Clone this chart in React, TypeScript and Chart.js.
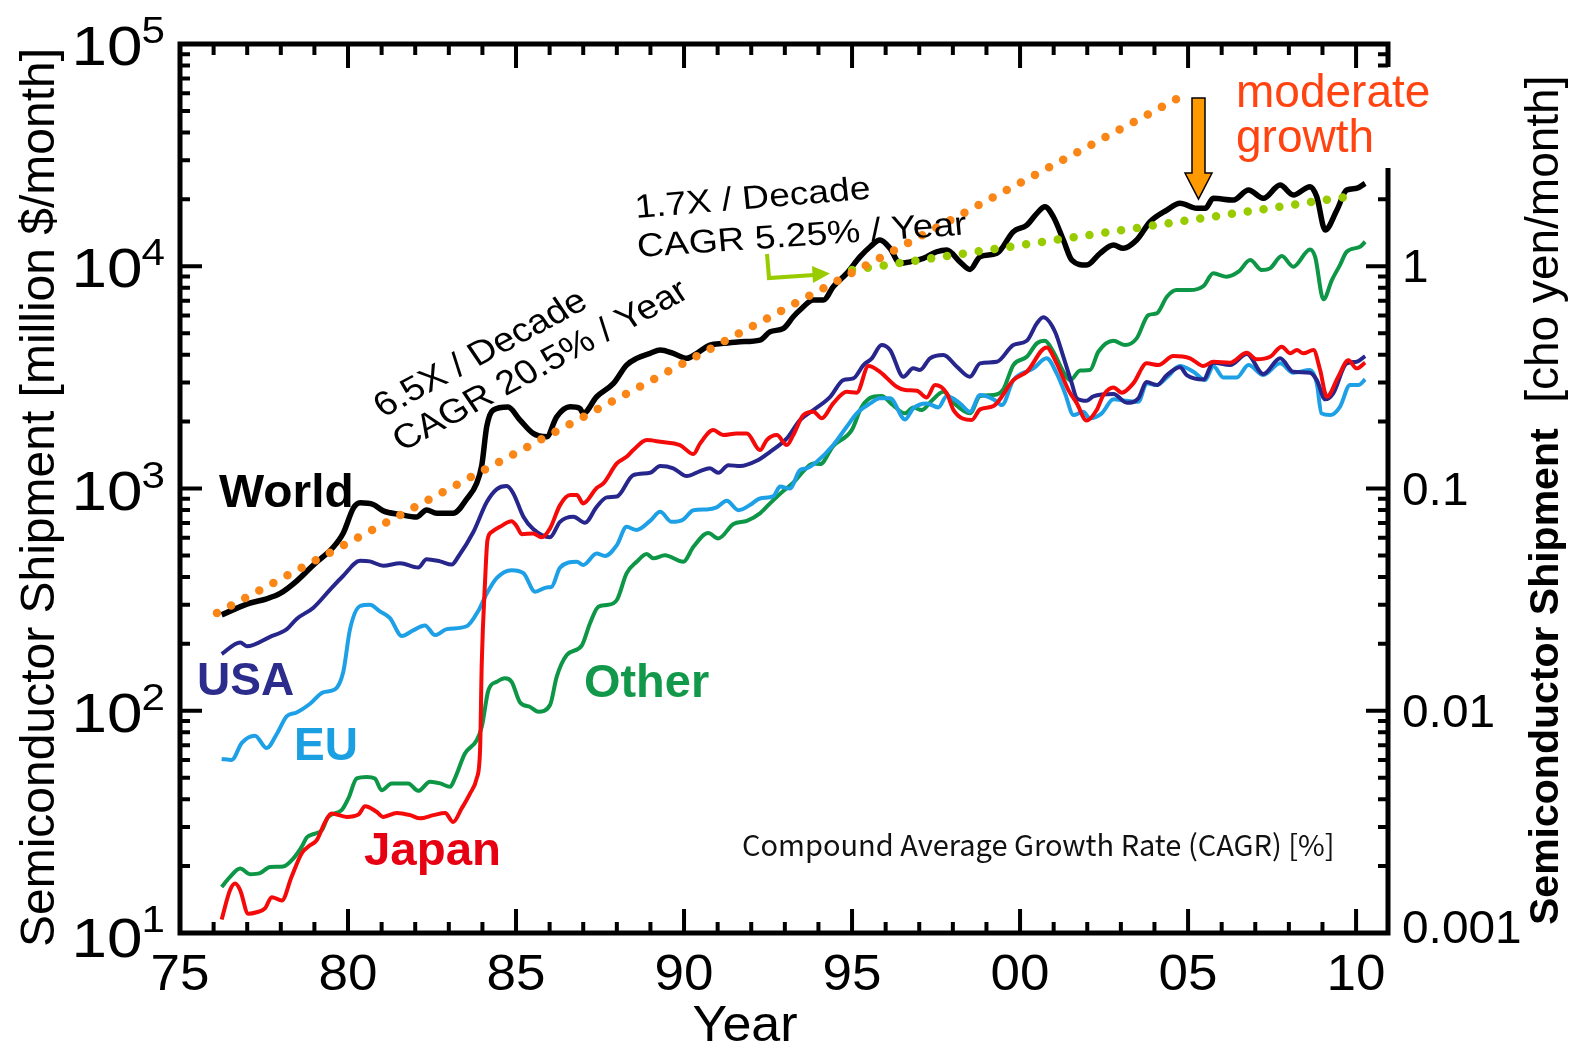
import React, { useEffect, useRef } from 'react';
import { Chart, registerables } from 'chart.js';

Chart.register(...registerables);

// ---------- data: [year, million $ / month] ----------
const WORLD: [number, number][] = [
  [1976.24, 270], [1976.99, 302], [1977.58, 319], [1977.98, 337], [1978.47, 383], [1978.97, 453],
  [1979.56, 544], [1979.86, 631], [1980.16, 816], [1980.36, 862], [1980.75, 847], [1981.05, 793],
  [1981.55, 764], [1982.04, 744], [1982.34, 801], [1982.64, 773], [1983.13, 773], [1983.53, 895],
  [1983.83, 1056], [1983.98, 1270], [1984.13, 1905], [1984.32, 2254], [1984.76, 2324], [1985.12, 2031],
  [1985.51, 1770], [1985.91, 1709], [1986.21, 2102], [1986.61, 2332], [1986.9, 2293], [1987.0, 2178],
  [1987.4, 2586], [1987.9, 2972], [1988.29, 3593], [1988.59, 3851], [1988.99, 4055], [1989.29, 4197],
  [1989.68, 4055], [1990.08, 3851], [1990.38, 4055], [1990.77, 4420], [1991.17, 4498], [1991.67, 4574],
  [1992.26, 4654], [1992.56, 5074], [1992.96, 5254], [1993.25, 5927], [1993.45, 6353], [1993.85, 7046],
  [1994.15, 7046], [1994.44, 8086], [1994.84, 9290], [1995.24, 11040], [1995.54, 12240], [1995.83, 13120],
  [1996.13, 12040], [1996.43, 10300], [1996.73, 10470], [1997.12, 10850], [1997.52, 11620], [1997.82, 11830],
  [1998.21, 10470], [1998.51, 9680], [1998.81, 11040], [1999.31, 11430], [1999.8, 14300], [2000.2, 15320],
  [2000.5, 17300], [2000.74, 18530], [2000.99, 16700], [2001.29, 13120], [2001.54, 10660], [2001.98, 10120],
  [2002.38, 11430], [2002.78, 12460], [2003.07, 12040], [2003.47, 13120], [2003.87, 15860], [2004.37, 17900],
  [2004.76, 19200], [2005.26, 18220], [2005.51, 18220], [2005.75, 20210], [2006.35, 19860], [2006.8, 22030],
  [2007.24, 20210], [2007.74, 23200], [2008.13, 20910], [2008.63, 22800], [2008.83, 20550], [2009.08, 14560],
  [2009.43, 17900], [2009.72, 22030], [2010.02, 22420], [2010.27, 23610],
];

const USA: [number, number][] = [
  [1976.24, 180], [1976.79, 203], [1976.99, 195], [1977.68, 215], [1978.18, 233], [1978.47, 259],
  [1978.97, 291], [1979.46, 350], [1979.86, 405], [1980.36, 473], [1980.65, 470], [1981.05, 449],
  [1981.55, 461], [1982.09, 441], [1982.34, 481], [1982.74, 470], [1983.09, 455], [1983.28, 493],
  [1983.73, 637], [1984.13, 869], [1984.43, 994], [1984.72, 1025], [1984.92, 950], [1985.22, 746],
  [1985.51, 657], [1986.01, 603], [1986.31, 708], [1986.71, 746], [1987.05, 701], [1987.4, 827],
  [1987.7, 912], [1988.0, 920], [1988.49, 1149], [1988.99, 1177], [1989.29, 1261], [1989.68, 1232],
  [1990.08, 1137], [1990.48, 1198], [1990.77, 1232], [1991.02, 1177], [1991.32, 1274], [1991.67, 1261],
  [1992.16, 1332], [1992.56, 1463], [1993.06, 1681], [1993.45, 2031], [1993.85, 2254], [1994.35, 2586],
  [1994.74, 3075], [1995.04, 3130], [1995.34, 3593], [1995.59, 3851], [1995.88, 4420], [1996.13, 4197],
  [1996.53, 3183], [1996.82, 3472], [1997.02, 3412], [1997.32, 3851], [1997.72, 3984], [1998.12, 3530],
  [1998.51, 3183], [1998.81, 3656], [1999.31, 3716], [1999.8, 4420], [2000.2, 4620], [2000.5, 5534],
  [2000.69, 5890], [2001.04, 5074], [2001.29, 3914], [2001.54, 2972], [2001.69, 2544], [2001.98, 2481],
  [2002.18, 2597], [2002.78, 2660], [2003.18, 2431], [2003.52, 2544], [2003.77, 3018], [2004.07, 2920],
  [2004.37, 3239], [2004.76, 3508], [2004.96, 3239], [2005.46, 3097], [2005.75, 3682], [2006.25, 3593],
  [2006.75, 4026], [2007.24, 3273], [2007.74, 3851], [2008.13, 3351], [2008.63, 3318], [2008.83, 3075],
  [2009.08, 2518], [2009.32, 2679], [2009.72, 3656], [2010.02, 3716], [2010.27, 3944],
];

const EU: [number, number][] = [
  [1976.24, 60.7], [1976.54, 60.1], [1976.84, 71.7], [1977.23, 77.2], [1977.58, 67.9], [1977.88, 78.6],
  [1978.18, 94.6], [1978.47, 98.2], [1978.87, 107.5], [1979.26, 121], [1979.61, 124.7], [1979.86, 149.8],
  [1980.06, 233], [1980.36, 296], [1980.65, 300], [1980.95, 280], [1981.25, 261], [1981.6, 217],
  [1981.94, 230], [1982.29, 242], [1982.59, 219], [1982.94, 233], [1983.53, 240], [1983.88, 282],
  [1984.13, 337], [1984.43, 396], [1984.87, 429], [1985.22, 416], [1985.57, 343], [1985.91, 359],
  [1986.06, 361], [1986.31, 441], [1986.81, 468], [1987.0, 453], [1987.4, 510], [1987.65, 497],
  [1988.0, 556], [1988.29, 672], [1988.59, 650], [1988.99, 715], [1989.29, 785], [1989.63, 708],
  [1989.98, 726], [1990.28, 799], [1990.68, 805], [1990.97, 822], [1991.27, 880], [1991.62, 799],
  [1991.96, 842], [1992.26, 902], [1992.66, 924], [1992.86, 1020], [1993.15, 1000], [1993.45, 1210],
  [1993.65, 1232], [1993.95, 1319], [1994.44, 1568], [1994.84, 1895], [1995.14, 2178], [1995.54, 2415],
  [1995.83, 2544], [1996.13, 2544], [1996.58, 2046], [1996.82, 2293], [1997.22, 2415], [1997.57, 2317],
  [1997.82, 2606], [1998.21, 2415], [1998.51, 2214], [1998.81, 2633], [1999.21, 2518], [1999.46, 2373],
  [1999.8, 3075], [2000.4, 3472], [2000.79, 3851], [2001.09, 3296], [2001.34, 2679], [2001.59, 2140],
  [2001.88, 2214], [2002.08, 2068], [2002.43, 2178], [2002.78, 2518], [2003.18, 2481], [2003.52, 2456],
  [2003.77, 2972], [2004.07, 2920], [2004.37, 3162], [2004.76, 3555], [2005.16, 3351], [2005.51, 3075],
  [2005.75, 3555], [2006.05, 3162], [2006.45, 3162], [2006.8, 3593], [2007.24, 3239], [2007.74, 3656],
  [2008.13, 3318], [2008.63, 3412], [2008.83, 2972], [2008.97, 2178], [2009.23, 2140], [2009.52, 2332],
  [2009.82, 2920], [2010.07, 2920], [2010.27, 3097],
];

const JAPAN: [number, number][] = [
  [1976.24, 11.5], [1976.49, 15.6], [1976.64, 16.7], [1976.79, 15.6], [1977.03, 12.2], [1977.28, 12.4],
  [1977.53, 12.9], [1977.73, 14.5], [1978.03, 14.0], [1978.32, 17.9], [1978.62, 22.8], [1978.87, 24.8],
  [1979.07, 26.2], [1979.32, 31.6], [1979.51, 34.5], [1979.96, 33.3], [1980.31, 34.1], [1980.51, 37.2],
  [1980.85, 35.1], [1981.05, 33.3], [1981.45, 34.7], [1981.85, 33.9], [1982.14, 32.8], [1982.54, 33.9],
  [1982.89, 34.7], [1983.13, 31.6], [1983.38, 36.3], [1983.63, 42.4], [1983.83, 49.6], [1983.93, 66.5],
  [1983.98, 163], [1984.08, 387], [1984.15, 586], [1984.28, 638], [1984.52, 672], [1984.87, 712],
  [1985.02, 677], [1985.17, 623], [1985.51, 627], [1985.76, 603], [1986.01, 661], [1986.31, 842],
  [1986.61, 934], [1986.81, 934], [1987.0, 857], [1987.4, 1006], [1987.6, 1054], [1988.0, 1297],
  [1988.29, 1389], [1988.49, 1489], [1988.89, 1652], [1989.29, 1623], [1989.88, 1568], [1990.28, 1428],
  [1990.48, 1596], [1990.87, 1831], [1991.17, 1739], [1991.57, 1770], [1991.87, 1770], [1992.26, 1489],
  [1992.46, 1652], [1992.76, 1739], [1993.06, 1568], [1993.25, 1739], [1993.55, 2140], [1993.85, 2214],
  [1994.1, 2068], [1994.44, 2415], [1994.84, 2725], [1995.14, 2699], [1995.49, 3555], [1995.83, 3351],
  [1996.33, 2869], [1996.58, 2772], [1996.93, 2752], [1997.22, 2570], [1997.47, 2920], [1997.82, 2679],
  [1998.02, 2254], [1998.56, 2031], [1998.81, 2270], [1999.21, 2349], [1999.8, 3075], [2000.2, 3351],
  [2000.79, 4311], [2001.09, 3656], [2001.44, 2772], [2001.69, 2415], [2001.98, 2021], [2002.28, 2254],
  [2002.48, 2633], [2002.78, 2851], [2003.03, 2699], [2003.37, 2972], [2003.77, 3656], [2004.12, 3593],
  [2004.56, 3944], [2005.06, 3851], [2005.46, 3555], [2005.75, 3716], [2006.25, 3682], [2006.75, 4080],
  [2007.04, 3812], [2007.44, 3914], [2007.79, 4344], [2008.04, 4055], [2008.24, 4197], [2008.43, 4055],
  [2008.73, 4197], [2008.93, 3412], [2009.13, 2586], [2009.47, 3183], [2009.77, 3780], [2010.02, 3472],
  [2010.27, 3682],
];

const OTHER: [number, number][] = [
  [1976.24, 16.1], [1976.49, 17.9], [1976.79, 19.5], [1977.08, 18.4], [1977.38, 18.6], [1977.68, 19.8],
  [1978.07, 19.9], [1978.37, 21.6], [1978.62, 24.4], [1978.77, 26.9], [1979.02, 28.0], [1979.22, 29.0],
  [1979.41, 33.3], [1979.81, 35.7], [1980.01, 40.3], [1980.26, 49.6], [1980.56, 50.4], [1980.8, 49.6],
  [1981.0, 43.9], [1981.3, 47.1], [1981.79, 47.1], [1982.09, 43.6], [1982.44, 47.9], [1982.74, 47.1],
  [1983.04, 45.5], [1983.18, 49.6], [1983.48, 64.2], [1983.83, 73.7], [1983.98, 84.6], [1984.18, 124],
  [1984.43, 135], [1984.67, 140], [1984.87, 135], [1985.12, 109], [1985.42, 104], [1985.66, 99],
  [1986.01, 106], [1986.21, 142], [1986.51, 178], [1986.96, 197], [1987.2, 247], [1987.45, 294],
  [1987.7, 299], [1988.0, 315], [1988.29, 415], [1988.59, 468], [1988.89, 507], [1989.09, 485],
  [1989.43, 501], [1989.98, 468], [1990.28, 547], [1990.72, 631], [1991.02, 596], [1991.47, 692],
  [1991.87, 715], [1992.26, 773], [1992.56, 857], [1992.96, 976], [1993.25, 1061], [1993.45, 1149],
  [1993.85, 1297], [1994.05, 1288], [1994.44, 1552], [1994.99, 1831], [1995.29, 2332], [1995.63, 2586],
  [1995.88, 2606], [1996.18, 2398], [1996.58, 2178], [1996.82, 2317], [1997.07, 2254], [1997.37, 2481],
  [1997.72, 2725], [1998.02, 2431], [1998.51, 2178], [1998.81, 2606], [1999.21, 2633], [1999.5, 2793],
  [1999.8, 3593], [2000.2, 3914], [2000.5, 4498], [2000.74, 4620], [2000.99, 4124], [2001.29, 3351],
  [2001.49, 3075], [2001.79, 3396], [2002.08, 3412], [2002.33, 4124], [2002.78, 4620], [2003.13, 4420],
  [2003.47, 4737], [2003.82, 6030], [2004.07, 6138], [2004.37, 7290], [2004.66, 7813], [2005.06, 7813],
  [2005.46, 8147], [2005.75, 9290], [2006.15, 8969], [2006.5, 9447], [2006.85, 10660], [2007.19, 9610],
  [2007.44, 9780], [2007.79, 11110], [2008.13, 9950], [2008.63, 11910], [2008.78, 11040], [2009.03, 7100],
  [2009.28, 8670], [2009.52, 10120], [2009.72, 11620], [2010.12, 12240], [2010.27, 12890],
];

// CAGR guide lines (end points)
const TREND_FAST: [number, number][] = [[1976.1, 275], [2004.7, 57000]]; // 6.5X / decade
const TREND_SLOW: [number, number][] = [[1995.0, 9610], [2010.07, 20900]]; // 1.7X / decade

// ---------- axes ----------
const X_MIN = 1975;
const X_MAX = 2010.95;
const X_MAJOR = [1975, 1980, 1985, 1990, 1995, 2000, 2005, 2010];
const X_LABELS = ['75', '80', '85', '90', '95', '00', '05', '10'];
const Y_EXPONENTS = [1, 2, 3, 4, 5];
const Y_RIGHT_LABELS = ['0.001', '0.01', '0.1', '1'];
const Y_RIGHT_VALUES = [10, 100, 1000, 10000];

const FONT = '"Liberation Sans", Arial, Helvetica, sans-serif';

const toXY = (arr: [number, number][]) => arr.map(([x, y]) => ({ x, y }));

const decorPlugin = {
  id: 'decor',
  afterDraw(chart: any) {
    const { ctx } = chart;
    const xs = chart.scales.x;
    const ys = chart.scales.y;
    const L = xs.getPixelForValue(X_MIN);
    const R = xs.getPixelForValue(X_MAX);
    const T = ys.getPixelForValue(100000);
    const B = ys.getPixelForValue(10);
    const gapTop = 67;
    const gapBottom = 168;

    ctx.save();
    ctx.strokeStyle = '#000';
    ctx.fillStyle = '#000';
    ctx.lineCap = 'butt';

    // frame
    ctx.lineWidth = 5;
    ctx.beginPath();
    ctx.moveTo(L - 2.5, T); ctx.lineTo(R + 2.5, T);
    ctx.moveTo(L - 2.5, B); ctx.lineTo(R + 2.5, B);
    ctx.moveTo(L, T); ctx.lineTo(L, B);
    ctx.moveTo(R, T); ctx.lineTo(R, gapTop);
    ctx.moveTo(R, gapBottom); ctx.lineTo(R, B);
    ctx.stroke();

    // ticks
    ctx.lineWidth = 4;
    ctx.beginPath();
    for (let yr = 1976; yr <= 2010; yr++) {
      const px = xs.getPixelForValue(yr);
      const len = yr % 5 === 0 ? 24 : 11;
      ctx.moveTo(px, B); ctx.lineTo(px, B - len);
      ctx.moveTo(px, T); ctx.lineTo(px, T + len);
    }
    for (let k = 1; k <= 4; k++) {
      for (let m = 1; m <= 9; m++) {
        if (k === 1 && m === 1) continue;
        const v = m * Math.pow(10, k);
        const py = ys.getPixelForValue(v);
        const len = m === 1 ? 22 : 10;
        ctx.moveTo(L, py); ctx.lineTo(L + len, py);
        if (py < gapTop || py > gapBottom) {
          ctx.moveTo(R, py); ctx.lineTo(R - len, py);
        }
      }
    }
    ctx.stroke();

    // horizontally stretched text helper
    const stretched = (txt: string, x: number, y: number, sx: number, align: CanvasTextAlign) => {
      ctx.save();
      ctx.translate(x, y);
      ctx.scale(sx, 1);
      ctx.textAlign = align;
      ctx.fillText(txt, 0, 0);
      ctx.restore();
    };

    // x tick labels
    ctx.font = `50px ${FONT}`;
    ctx.textBaseline = 'alphabetic';
    X_MAJOR.forEach((v, i) => {
      stretched(X_LABELS[i], xs.getPixelForValue(v), 990, 1.06, 'center');
    });
    stretched('Year', 745, 1041, 1.04, 'center');

    // left y labels 10^k
    Y_EXPONENTS.forEach((k) => {
      const py = ys.getPixelForValue(Math.pow(10, k));
      const sx = 1.14;
      ctx.font = `37px ${FONT}`;
      const e = String(k);
      const ew = ctx.measureText(e).width * sx;
      stretched(e, 165, py - 1, sx, 'right');
      ctx.font = `56px ${FONT}`;
      stretched('10', 165 - ew + 1, py + (k === 1 ? 24 : 21), sx, 'right');
    });

    // right y labels
    ctx.font = `46px ${FONT}`;
    Y_RIGHT_VALUES.forEach((v, i) => {
      const py = ys.getPixelForValue(v);
      stretched(Y_RIGHT_LABELS[i], 1402, py + (v === 10 ? 10 : 16), 1.04, 'left');
    });

    // axis titles
    ctx.save();
    ctx.translate(54, 947);
    ctx.rotate(-Math.PI / 2);
    ctx.font = `48px ${FONT}`;
    ctx.textAlign = 'left';
    ctx.fillText('Semiconductor Shipment [million $/month]', 0, 0);
    ctx.restore();

    ctx.save();
    ctx.translate(1558, 925);
    ctx.rotate(-Math.PI / 2);
    ctx.textAlign = 'left';
    ctx.font = `bold 41px ${FONT}`;
    const p1 = 'Semiconductor Shipment';
    ctx.fillText(p1, 0, 0);
    const w1 = ctx.measureText(p1).width;
    ctx.font = `46px ${FONT}`;
    ctx.fillText('  [cho yen/month]', w1, 0);
    ctx.restore();

    // series labels
    ctx.font = `bold 46px ${FONT}`;
    ctx.fillStyle = '#000000'; stretched('World', 219, 507, 1.04, 'left');
    ctx.fillStyle = '#2B2C8C'; stretched('USA', 197, 695, 1.0, 'left');
    ctx.fillStyle = '#1A9FE2'; stretched('EU', 294, 760, 1.0, 'left');
    ctx.fillStyle = '#E60012'; stretched('Japan', 364, 865, 1.03, 'left');
    ctx.fillStyle = '#12984A'; stretched('Other', 584, 697, 1.02, 'left');

    // rotated CAGR notes (with horizontal stretch like the source)
    ctx.fillStyle = '#000';
    const rot = (txt: string, x: number, y: number, deg: number, size: number, sx: number) => {
      ctx.save();
      ctx.translate(x, y);
      ctx.scale(sx, 1);
      const t = Math.atan(Math.tan((deg * Math.PI) / 180) / sx);
      ctx.rotate(-t);
      ctx.font = `${size}px ${FONT}`;
      ctx.textAlign = 'left';
      ctx.fillText(txt, 0, 0);
      ctx.restore();
    };
    rot('6.5X / Decade', 383, 418, 34, 34, 1.12);
    rot('CAGR 20.5% / Year', 402, 452, 34, 34, 1.12);
    rot('1.7X / Decade', 636, 218, 6, 33, 1.13);
    rot('CAGR 5.25% / Year', 638, 257, 5, 33, 1.13);

    // green bent arrow
    ctx.strokeStyle = '#99CC00';
    ctx.fillStyle = '#99CC00';
    ctx.lineWidth = 4;
    ctx.lineJoin = 'miter';
    ctx.beginPath();
    ctx.moveTo(767, 254);
    ctx.lineTo(769, 278);
    ctx.lineTo(814, 275);
    ctx.stroke();
    ctx.beginPath();
    ctx.moveTo(812, 266);
    ctx.lineTo(830, 273.5);
    ctx.lineTo(813, 283);
    ctx.closePath();
    ctx.fill();

    // orange block arrow
    ctx.beginPath();
    ctx.moveTo(1192, 98);
    ctx.lineTo(1205, 98);
    ctx.lineTo(1205, 173);
    ctx.lineTo(1212, 173);
    ctx.lineTo(1198.5, 199);
    ctx.lineTo(1185, 173);
    ctx.lineTo(1192, 173);
    ctx.closePath();
    ctx.fillStyle = '#FF9900';
    ctx.fill();
    ctx.strokeStyle = '#000';
    ctx.lineWidth = 1.5;
    ctx.stroke();

    // moderate growth
    ctx.fillStyle = '#FF4411';
    ctx.font = `46px ${FONT}`;
    stretched('moderate', 1236, 107, 1.0, 'left');
    stretched('growth', 1236, 152, 1.0, 'left');

    // CAGR footnote
    ctx.fillStyle = '#111';
    ctx.font = `29px "Noto Sans CJK JP", ${FONT}`;
    stretched('Compound Average Growth Rate (CAGR) [%]', 742, 856, 1.0, 'left');

    ctx.restore();
  },
};

export default function App() {
  const ref = useRef<HTMLCanvasElement | null>(null);

  useEffect(() => {
    document.body.style.margin = '0';
    document.body.style.overflow = 'hidden';
    const canvas = ref.current;
    if (!canvas) return;
    const line = (data: [number, number][], color: string, width: number) => ({
      data: toXY(data),
      borderColor: color,
      backgroundColor: color,
      borderWidth: width,
      pointRadius: 0,
      fill: false,
      cubicInterpolationMode: 'monotone' as const,
      borderJoinStyle: 'round' as const,
    });
    const dotted = (data: [number, number][], color: string, size: number, gap: number) => ({
      data: toXY(data),
      borderColor: color,
      backgroundColor: color,
      borderWidth: size,
      borderDash: [0, gap],
      borderCapStyle: 'round' as const,
      pointRadius: 0,
      fill: false,
      tension: 0,
    });
    const chart = new Chart(canvas, {
      type: 'line',
      data: {
        datasets: [
          { label: '6.5X / Decade', ...dotted(TREND_FAST, '#F98617', 8.5, 16) },
          { label: '1.7X / Decade', ...dotted(TREND_SLOW, '#99CC00', 8.5, 16) },
          { label: 'World', ...line(WORLD, '#000000', 5.5) },
          { label: 'Japan', ...line(JAPAN, '#F50A0A', 4) },
          { label: 'USA', ...line(USA, '#26268C', 4) },
          { label: 'EU', ...line(EU, '#1EA0E6', 4) },
          { label: 'Other', ...line(OTHER, '#0E9647', 4) },
        ],
      },
      options: {
        responsive: false,
        animation: false,
        devicePixelRatio: 1,
        layout: { padding: { left: 180, right: 184, top: 44, bottom: 117 } },
        plugins: { legend: { display: false }, tooltip: { enabled: false } },
        scales: {
          x: { type: 'linear', min: X_MIN, max: X_MAX, display: false },
          y: { type: 'logarithmic', min: 10, max: 100000, display: false },
        },
      },
      plugins: [decorPlugin],
    });
    return () => chart.destroy();
  }, []);

  return (
    <div style={{ width: 1572, height: 1050, background: '#fff' }}>
      <canvas ref={ref} width={1572} height={1050} style={{ display: 'block' }} />
    </div>
  );
}
